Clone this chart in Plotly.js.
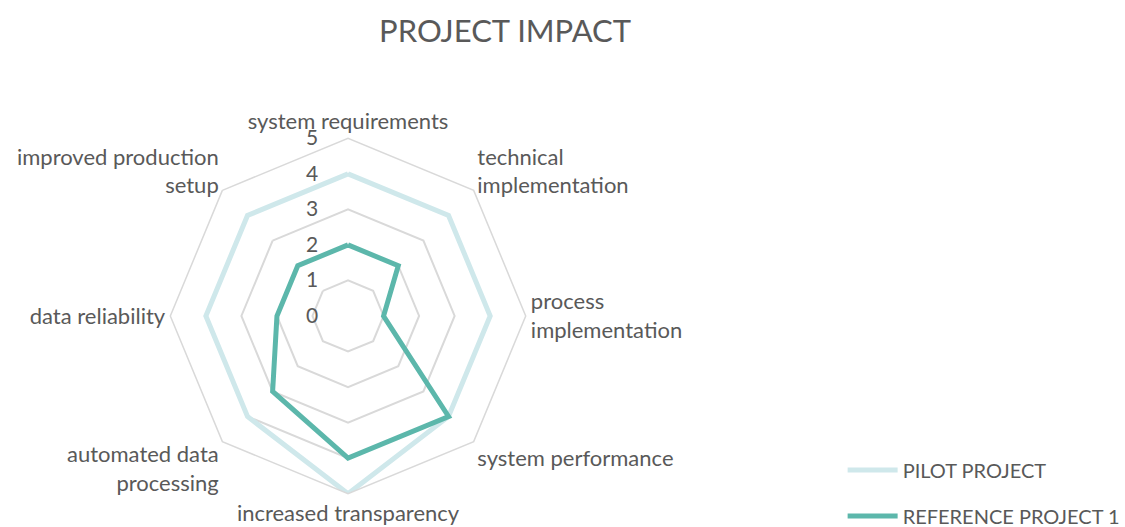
<!DOCTYPE html>
<html>
<head>
<meta charset="utf-8">
<script src="https://cdn.plot.ly/plotly-3.0.1.min.js"></script>
<style>
  body { margin: 0; background: #fff; }
  #chart { width: 1125px; height: 527px; }
</style>
</head>
<body>
<div id="chart"></div>
<script>
var categorias = [
  "system requirements",
  "technical<br>implementation",
  "process<br>implementation",
  "system performance",
  "increased transparency",
  "automated data<br>processing",
  "data reliability",
  "improved production<br>setup"
];
var piloto = [4, 4, 4, 4, 5, 4, 4, 4];
var referencia = [2, 2, 1, 4, 4, 3, 2, 2];
var nombres = ["PILOT PROJECT", "REFERENCE PROJECT 1"];

// cerrar el poligono
function cerrar(arr) { return arr.concat([arr[0]]); }

var fuente = "Lato, 'Open Sans', sans-serif";

var data = [
  {
    type: 'scatterpolar',
    r: cerrar(piloto),
    theta: cerrar(categorias),
    mode: 'lines',
    name: nombres[0],
    legendgroup: 'a',
    line: { color: '#cfe8eb', width: 5 }
  },
  {
    type: 'scatterpolar',
    r: cerrar(referencia),
    theta: cerrar(categorias),
    mode: 'lines',
    name: nombres[1],
    legendgroup: 'b',
    line: { color: '#5cb7ab', width: 5 }
  }
];

var layout = {
  width: 1125,
  height: 527,
  margin: { l: 0, r: 0, t: 0, b: 0, autoexpand: false },
  paper_bgcolor: '#fff',
  font: { family: fuente, color: '#595959', size: 22 },
  title: {
    text: 'PROJECT IMPACT',
    font: { family: fuente, size: 31, color: '#595959' },
    x: 0.449, xanchor: 'center',
    y: 0.94, yanchor: 'middle'
  },
  showlegend: true,
  legend: {
    x: 0.749, y: -0.016, xanchor: 'left', yanchor: 'bottom',
    font: { family: fuente, size: 20, color: '#595959' },
    tracegroupgap: 17,
    itemwidth: 50
  },
  polar: {
    domain: { x: [0.1514, 0.4673], y: [0.0632, 0.7376] },
    gridshape: 'linear',
    bgcolor: '#fff',
    radialaxis: {
      range: [0, 5],
      dtick: 1,
      angle: 90,
      side: 'counterclockwise',
      tickangle: 90,
      showline: false,
      ticks: 'outside',
      ticklen: 22,
      tickcolor: 'rgba(0,0,0,0)',
      gridcolor: '#d9d9d9',
      gridwidth: 1.5,
      tickfont: { size: 21, color: '#595959' }
    },
    angularaxis: {
      direction: 'clockwise',
      rotation: 90,
      showgrid: false,
      showline: true,
      linecolor: '#d9d9d9',
      linewidth: 1.5,
      ticks: '',
      tickfont: { size: 22, color: '#595959' }
    }
  }
};

Plotly.newPlot('chart', data, layout, { displayModeBar: false });
</script>
</body>
</html>
